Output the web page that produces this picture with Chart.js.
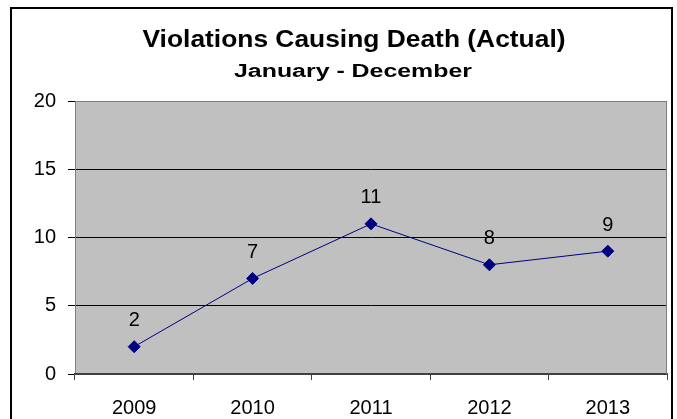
<!DOCTYPE html>
<html>
<head>
<meta charset="utf-8">
<script src="https://cdn.jsdelivr.net/npm/chart.js@4"></script>
<style>
  body { margin: 0; background: #fff; }
  #wrap { width: 677px; height: 419px; }
</style>
</head>
<body>
<div id="wrap"><canvas id="myChart" width="677" height="419"></canvas></div>
<script>
// data
const years = ["2009", "2010", "2011", "2012", "2013"];
const deaths = [2, 7, 11, 8, 9];
const yTicks = [0, 5, 10, 15, 20];

const titleText = "Violations Causing Death (Actual)";
const subtitleText = "January - December";

const fontName = "'Liberation Sans', Arial, sans-serif";

// the original picture is stretched sideways, so the titles get drawn
// with a horizontal scale to reach the same width
function drawWideText(ctx, text, font, cx, cy, targetWidth) {
  ctx.save();
  ctx.font = font;
  const w = ctx.measureText(text).width;
  const sx = targetWidth / w;
  ctx.translate(cx, cy);
  ctx.scale(sx, 1);
  ctx.textAlign = "center";
  ctx.textBaseline = "middle";
  ctx.fillStyle = "#000";
  ctx.fillText(text, 0, 0);
  ctx.restore();
}

// gray plot area + outer frame + titles + point labels
const decorPlugin = {
  id: "decor",
  beforeDraw(chart) {
    const { ctx, chartArea: a } = chart;
    ctx.save();
    ctx.fillStyle = "#c0c0c0";
    ctx.fillRect(a.left, a.top, a.right - a.left, a.bottom - a.top);
    ctx.restore();
  },
  afterDraw(chart) {
    const { ctx, chartArea: a } = chart;
    ctx.save();
    // plot border (gray)
    ctx.strokeStyle = "#808080";
    ctx.lineWidth = 1;
    ctx.beginPath();
    ctx.moveTo(a.left + 0.5, a.top + 0.5);
    ctx.lineTo(a.right - 0.5, a.top + 0.5);
    ctx.lineTo(a.right - 0.5, a.bottom);
    ctx.stroke();
    // outer chart frame
    ctx.strokeStyle = "#000";
    ctx.lineWidth = 2;
    ctx.strokeRect(11, 8, 661, 430);
    ctx.restore();

    drawWideText(ctx, titleText, "bold 23px " + fontName, 354, 41, 423);
    drawWideText(ctx, subtitleText, "bold 18px " + fontName, 353, 72, 238);

    // value labels
    ctx.save();
    const meta = chart.getDatasetMeta(0);
    ctx.fillStyle = "#000";
    ctx.font = "20px " + fontName;
    ctx.textAlign = "center";
    ctx.textBaseline = "middle";
    meta.data.forEach((pt, i) => {
      ctx.fillText(String(deaths[i]), pt.x, pt.y - 26);
    });
    ctx.restore();
  },
};

const data = {
  labels: years,
  datasets: [
    {
      label: "Violations Causing Death",
      data: deaths,
      borderColor: "#000080",
      backgroundColor: "#000080",
      borderWidth: 1,
      pointStyle: "rectRot",
      pointRadius: 6,
      pointBorderWidth: 1,
      tension: 0,
    },
  ],
};

const config = {
  type: "line",
  data,
  options: {
    responsive: false,
    animation: false,
    layout: { padding: { left: 12, right: 10, top: 101, bottom: 0 } },
    plugins: {
      legend: { display: false },
      tooltip: { enabled: false },
      title: { display: false },
    },
    scales: {
      y: {
        min: 0,
        max: 20,
        afterBuildTicks(scale) {
          scale.ticks = yTicks.map((v) => ({ value: v }));
        },
        afterFit(scale) {
          scale.width = 63;
        },
        ticks: {
          color: "#000",
          font: { family: fontName, size: 20 },
          padding: 12,
        },
        grid: {
          color: "#000",
          lineWidth: 1,
          tickLength: 7,
          tickColor: "#000",
        },
        border: { color: "#808080", width: 1 },
      },
      x: {
        offset: true,
        afterFit(scale) {
          scale.height = 45;
        },
        ticks: {
          color: "#000",
          font: { family: fontName, size: 20 },
          padding: 16,
        },
        grid: {
          offset: true,
          drawOnChartArea: false,
          tickLength: 6,
          tickColor: "#404040",
        },
        border: { color: "#404040", width: 2 },
      },
    },
  },
  plugins: [decorPlugin],
};

const myChart = new Chart(document.getElementById("myChart"), config);
</script>
</body>
</html>
